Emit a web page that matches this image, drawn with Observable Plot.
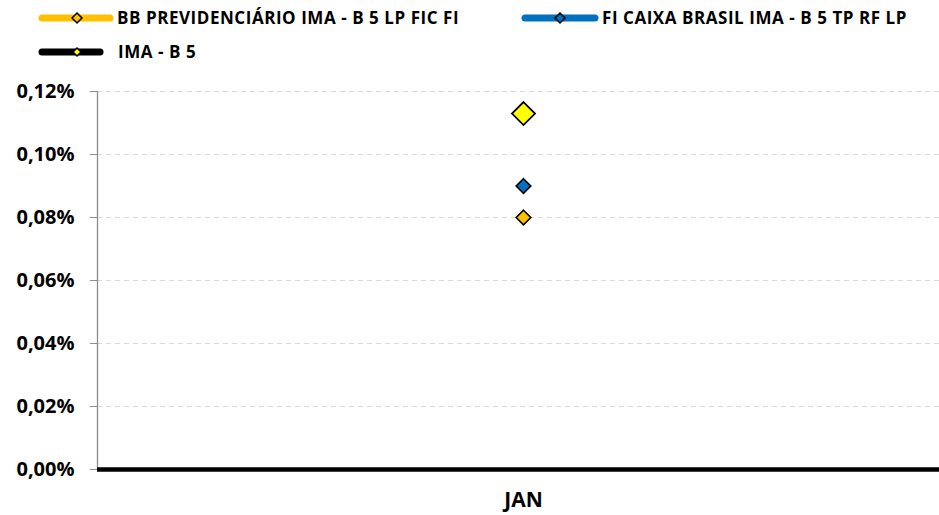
<!DOCTYPE html>
<html>
<head>
<meta charset="utf-8">
<script src="https://cdn.jsdelivr.net/npm/d3@7"></script>
<script src="https://cdn.jsdelivr.net/npm/@observablehq/plot@0.6"></script>
<style>
  html, body { margin: 0; padding: 0; background: #fff; overflow: hidden; }
  body { width: 939px; height: 515px; position: relative; font-family: "Open Sans", sans-serif; }
  .leg { position: absolute; height: 24px; }
  .leg svg { position: absolute; left: 0; top: 0; }
  .leg span { position: absolute; top: 0; line-height: 24px; font-weight: 700; font-size: 17px; letter-spacing: 0.55px; color: #000; white-space: nowrap; }
  #chart { position: absolute; left: 0; top: 70px; }
</style>
</head>
<body>
<div id="legend"></div>
<div id="chart"></div>
<script>
const months = ["JAN"];
const seriesNames = ["BB PREVIDENCIÁRIO IMA - B 5 LP FIC FI", "FI CAIXA BRASIL IMA - B 5 TP RF LP", "IMA - B 5"];
const bbValues = [0.08];
const caixaValues = [0.09];
const imaValues = [0.113];
const yTicks = [0, 0.02, 0.04, 0.06, 0.08, 0.10, 0.12];
const lineColors = ["#FFC000", "#0070C0", "#000000"];
const markerColors = ["#FFC000", "#0070C0", "#FFFF00"];

const valueArrays = [bbValues, caixaValues, imaValues];
const data = [];
seriesNames.forEach((s, i) => months.forEach((m, j) => data.push({series: s, month: m, value: valueArrays[i][j], idx: i})));

// Legend
const legendPos = [
  {left: 38, top: 6, lineW: 76, textX: 79},
  {left: 521, top: 6, lineW: 78, textX: 81},
  {left: 38, top: 40, lineW: 66, textX: 80}
];
const legend = document.getElementById("legend");
seriesNames.forEach((s, i) => {
  const p = legendPos[i];
  const d = document.createElement("div");
  d.className = "leg";
  d.style.left = p.left + "px";
  d.style.top = p.top + "px";
  const w = p.lineW, cx = 39;
  const m = i === 2 ? 4 : 5;
  d.innerHTML = `<svg width="${w}" height="24"><line x1="4" x2="${w-4}" y1="12" y2="12" stroke="${lineColors[i]}" stroke-width="7" stroke-linecap="round"/>` +
    `<path d="M${cx},${12-m} L${cx+m},12 L${cx},${12+m} L${cx-m},12 Z" fill="${markerColors[i]}" stroke="#000" stroke-width="1.5"/></svg>` +
    `<span style="left:${p.textX}px">${s}</span>`;
  legend.appendChild(d);
});

const diamond = {
  draw(context, size) {
    const r = Math.sqrt(size / Math.PI);
    context.moveTo(0, -r); context.lineTo(r, 0); context.lineTo(0, r); context.lineTo(-r, 0); context.closePath();
  }
};

const fmt = d => d.toFixed(2).replace(".", ",") + "%";

const chart = Plot.plot({
  width: 939,
  height: 445,
  marginLeft: 97,
  marginRight: 0,
  marginTop: 21,
  marginBottom: 46,
  style: {fontFamily: "'Open Sans', sans-serif", fontWeight: 700, color: "#000", background: "#fff"},
  x: {type: "point", domain: months, align: 0.506, label: null},
  y: {domain: [0, 0.12], ticks: yTicks, label: null, tickFormat: fmt},
  symbol: {domain: seriesNames, range: [diamond, diamond, diamond]},
  marks: [
    Plot.gridY(yTicks.filter(t => t > 0), {stroke: "#d9d9d9", strokeOpacity: 1, strokeDasharray: "5,4", strokeWidth: 1.2}),
    Plot.frame({anchor: "left", stroke: "#8c8c8c", strokeWidth: 1.3}),
    Plot.axisY({ticks: yTicks, tickFormat: fmt, tickSize: 7, tickPadding: 16, stroke: "#8c8c8c", fill: "#000", fontSize: 20, fontWeight: 700}),
    Plot.axisX({tickSize: 0, tickPadding: 23, fontSize: 21, fontWeight: 700, fill: "#000"}),
    Plot.ruleY([0], {stroke: "#000", strokeWidth: 4.5}),
    Plot.dot(data.filter(d => d.idx !== 2), {x: "month", y: "value", symbol: "series", r: 7.3,
      fill: d => markerColors[d.idx], stroke: "#000", strokeWidth: 1.6}),
    Plot.dot(data.filter(d => d.idx === 2), {x: "month", y: "value", symbol: "series", r: 11.5,
      fill: d => markerColors[d.idx], stroke: "#000", strokeWidth: 1.8})
  ]
});
document.getElementById("chart").appendChild(chart);
</script>
</body>
</html>
